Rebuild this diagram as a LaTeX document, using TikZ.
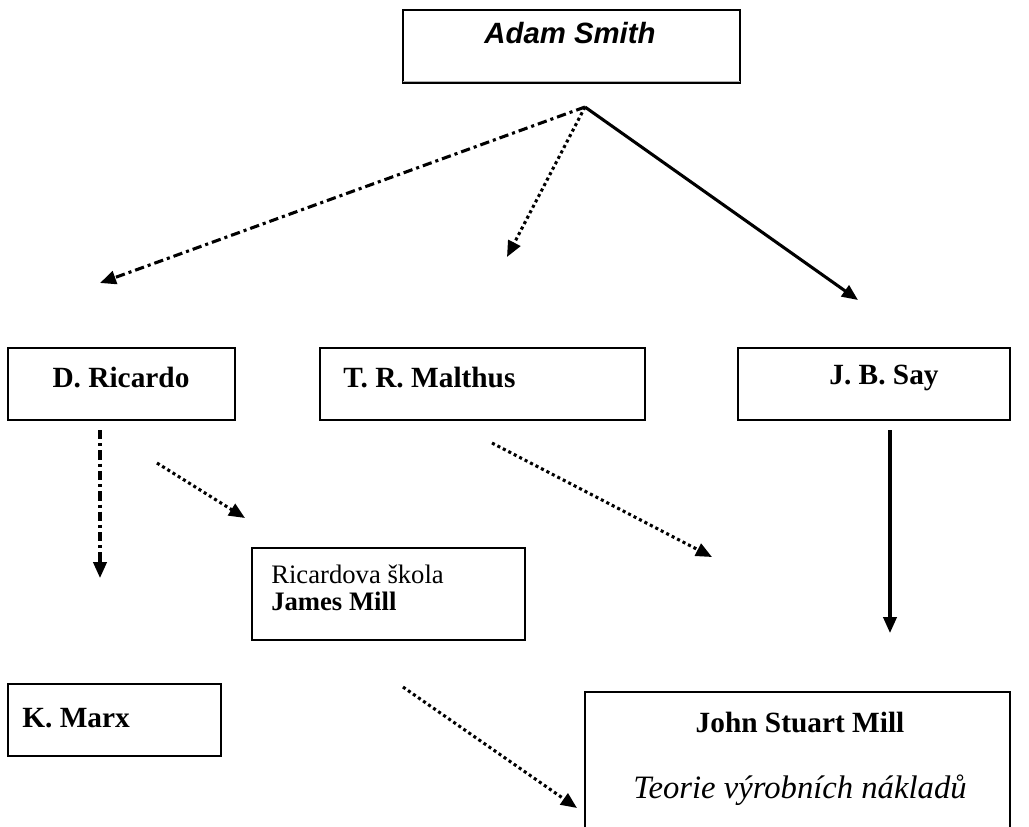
\documentclass[tikz,border=0pt]{standalone}
\usepackage{fontspec}
\setmainfont{Liberation Serif}
\newfontfamily\arialfont{Liberation Sans}
\usetikzlibrary{arrows.meta}
\tikzset{
  box/.style={draw, line width=1.4pt, rectangle, inner sep=0pt},
  persontext/.style={font=\fontsize{22}{26}\selectfont\bfseries, inner sep=0pt},
  flow/.style={line width=2.3pt, -{Triangle[length=12pt,width=10pt]}},
  dashdot/.style={flow, dash pattern=on 7pt off 3pt on 2.3pt off 3pt},
  dots/.style={flow, dash pattern=on 2.3pt off 2.3pt}
}
\begin{document}
\begin{tikzpicture}[x=0.75pt,y=-0.75pt]
      \clip (0,0) rectangle (1029,826);
      \fill[white] (0,0) rectangle (1029,826);
      % boxes
      \draw
        (571.5,46.5) node[box, minimum width=252.75pt, minimum height=54.75pt] (smith){}
        (121.5,384) node[box, minimum width=170.25pt, minimum height=54pt] (ricardo){}
        (482.5,384) node[box, minimum width=243.75pt, minimum height=54pt] (malthus){}
        (874,384) node[box, minimum width=204pt, minimum height=54pt] (say){}
        (388.5,594) node[box, minimum width=204.75pt, minimum height=69pt] (school){}
        (114.5,720) node[box, minimum width=159.75pt, minimum height=54pt] (marx){}
        (797.5,780) node[box, minimum width=318.75pt, minimum height=132pt] (jsmill){};
      \draw[gray!60, line width=1pt] ([xshift=1pt,yshift=2pt]smith.south west) -- ([xshift=-1pt,yshift=2pt]smith.south east);
      % texts
      \draw
        (570,33) node[persontext, font=\arialfont\fontsize{22}{26}\selectfont\bfseries\itshape] (smithtext){Adam Smith}
        (121,378) node[persontext] (ricardotext){D. Ricardo}
        (343,378) node[persontext, anchor=west] (malthustext){T. R. Malthus}
        (884,378) node[persontext] (saytext){J. B. Say}
        (271,588) node[anchor=west, align=left, inner sep=0pt, font=\fontsize{20}{20}\selectfont] (schooltext){Ricardova škola\\\textbf{James Mill}}
        (22,718) node[persontext, anchor=west] (marxtext){K. Marx}
        (800,722) node[persontext] (jsmilltext){John Stuart Mill}
        (800,790) node[inner sep=0pt, font=\fontsize{24.5}{28}\selectfont\itshape] (theorytext){Teorie výrobních nákladů};
      % arrow ends
      \coordinate (top) at (585,107);
      \coordinate (toricardo) at (100,283);
      \coordinate (tomalthus) at (507,257);
      \coordinate (tosay) at (858,300);
      \coordinate (rdown) at (100,430);
      \coordinate (tomarx) at (100,578);
      \coordinate (rdiag) at (157,463);
      \coordinate (toschool) at (245,518);
      \coordinate (mdiag) at (492,443);
      \coordinate (mtojs) at (712,557);
      \coordinate (sdown) at (890,430);
      \coordinate (stojs) at (890,633);
      \coordinate (jdiag) at (403,687);
      \coordinate (jtojs) at (577,808);
      \begin{scope}[line join=miter]
        \draw[dashdot] (top) to (toricardo);
        \draw[dots] (top) to (tomalthus);
        \draw[flow] (top) to (tosay);
        \draw[dashdot] (rdown) to (tomarx);
        \draw[dots] (rdiag) to (toschool);
        \draw[dots] (mdiag) to (mtojs);
        \draw[flow] (sdown) to (stojs);
        \draw[dots] (jdiag) to (jtojs);
      \end{scope}
    \end{tikzpicture}
\end{document}
